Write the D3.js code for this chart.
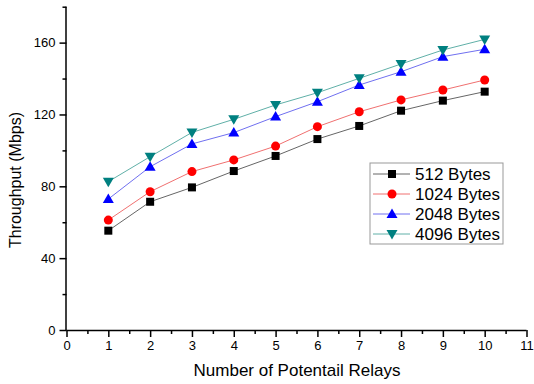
<!DOCTYPE html>
<html>
<head>
<meta charset="utf-8">
<script src="https://cdn.jsdelivr.net/npm/d3@7"></script>
<style>
  body { margin: 0; background: #fff; }
  text { font-family: Arial, "Liberation Sans", sans-serif; fill: #000; }
</style>
</head>
<body>
<svg id="chart" width="534" height="384"></svg>
<script>
// data
var relays = [1, 2, 3, 4, 5, 6, 7, 8, 9, 10];
var bytes512  = [55.3, 71.4, 79.4, 88.5, 96.9, 106.3, 113.6, 122.1, 127.7, 132.7];
var bytes1024 = [61.2, 77.0, 88.2, 94.7, 102.4, 113.2, 121.5, 128.1, 133.6, 139.2];
var bytes2048 = [72.9, 90.9, 103.6, 109.9, 118.8, 127.1, 136.4, 143.8, 152.2, 156.3];
var bytes4096 = [82.6, 96.5, 110.0, 117.3, 125.3, 132.1, 140.1, 148.1, 155.9, 161.8];
var seriesNames = ["512 Bytes", "1024 Bytes", "2048 Bytes", "4096 Bytes"];
var xTicks = [0, 1, 2, 3, 4, 5, 6, 7, 8, 9, 10, 11];
var yTicks = [0, 40, 80, 120, 160];

var series = [
  { name: seriesNames[0], values: bytes512,  color: "#000000", line: "#666666", shape: "square" },
  { name: seriesNames[1], values: bytes1024, color: "#ff0000", line: "#f07070", shape: "circle" },
  { name: seriesNames[2], values: bytes2048, color: "#0000ff", line: "#7070f0", shape: "up" },
  { name: seriesNames[3], values: bytes4096, color: "#008080", line: "#60b0a8", shape: "down" }
];

var svg = d3.select("#chart");

var x = d3.scaleLinear().domain([0, 11]).range([66.5, 526.5]);
var y = d3.scaleLinear().domain([0, 180]).range([330, 6.7]);

// minor ticks first
svg.append("g")
  .attr("transform", "translate(0,330)")
  .call(d3.axisBottom(x).tickValues(d3.range(0.5, 11, 1)).tickSize(4).tickFormat(""))
  .call(g => g.select(".domain").remove());
svg.append("g")
  .attr("transform", "translate(66.5,0)")
  .call(d3.axisLeft(y).tickValues([20, 60, 100, 140, 180]).tickSize(4).tickFormat(""))
  .call(g => g.select(".domain").remove());

var xAxis = svg.append("g")
  .attr("transform", "translate(0,330)")
  .call(d3.axisBottom(x).tickValues(xTicks).tickSize(7).tickPadding(4).tickFormat(d3.format("d")));
xAxis.select(".domain").attr("d", "M66.5,0.5H526.5");

var yAxis = svg.append("g")
  .attr("transform", "translate(66.5,0)")
  .call(d3.axisLeft(y).tickValues(yTicks).tickSize(7).tickPadding(4).tickFormat(d3.format("d")));
yAxis.select(".domain").attr("d", "M-0.5,330V6.7");

svg.selectAll(".tick text").style("font-size", "13px").style("font-family", "Arial, 'Liberation Sans', sans-serif");
svg.selectAll(".tick line, .domain").attr("stroke", "#000").attr("stroke-width", 1.5);

// axis titles
svg.append("text")
  .attr("x", 297).attr("y", 376)
  .attr("text-anchor", "middle")
  .style("font-size", "17px")
  .text("Number of Potentail Relays");

svg.append("text")
  .attr("transform", "translate(21,180) rotate(-90)")
  .attr("text-anchor", "middle")
  .style("font-size", "16px")
  .text("Throughput (Mbps)");

function drawMarker(g, shape, color) {
  if (shape === "square") {
    g.append("rect").attr("x", -4).attr("y", -4).attr("width", 8).attr("height", 8).attr("fill", color);
  } else if (shape === "circle") {
    g.append("circle").attr("r", 4.5).attr("fill", color);
  } else if (shape === "up") {
    g.append("path").attr("d", "M0,-5.5L5.5,4L-5.5,4Z").attr("fill", color);
  } else {
    g.append("path").attr("d", "M0,5.5L5.5,-4L-5.5,-4Z").attr("fill", color);
  }
}

var line = d3.line()
  .x((d, i) => x(relays[i]))
  .y(d => y(d));

series.forEach(s => {
  svg.append("path")
    .attr("d", line(s.values))
    .attr("fill", "none")
    .attr("stroke", s.line)
    .attr("stroke-width", 1);
});

series.forEach(s => {
  s.values.forEach((v, i) => {
    var g = svg.append("g").attr("transform", `translate(${x(relays[i])},${y(v)})`);
    drawMarker(g, s.shape, s.color);
  });
});

// legend
var legend = svg.append("g").attr("transform", "translate(370,163)");
legend.append("rect")
  .attr("width", 133).attr("height", 81)
  .attr("fill", "#fff").attr("stroke", "#999").attr("stroke-width", 1);

series.forEach((s, i) => {
  var row = legend.append("g").attr("transform", `translate(0,${11 + i * 20})`);
  row.append("line").attr("x1", 3).attr("x2", 40).attr("stroke", s.line).attr("stroke-width", 1);
  drawMarker(row.append("g").attr("transform", "translate(22,0)"), s.shape, s.color);
  row.append("text").attr("x", 45).attr("y", 6).style("font-size", "17px").text(s.name);
});
</script>
</body>
</html>
